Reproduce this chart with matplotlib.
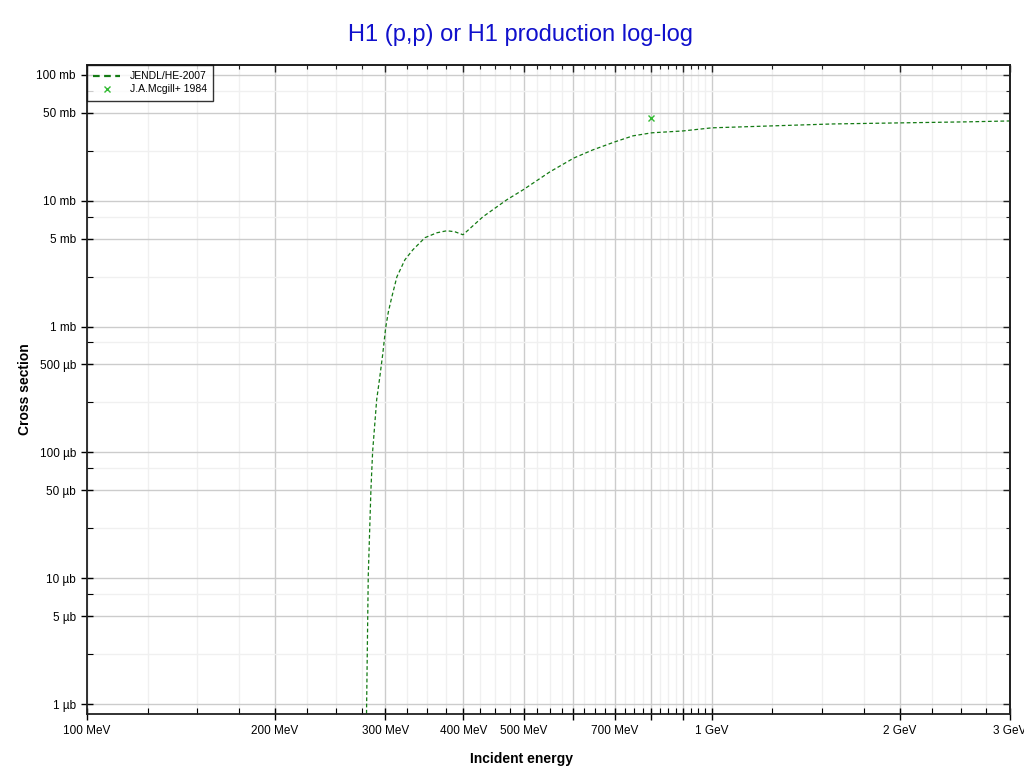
import matplotlib
matplotlib.use("Agg")
import matplotlib.pyplot as plt
from matplotlib.ticker import FixedLocator, FixedFormatter, NullFormatter
import numpy as np

plt.rcParams["font.family"] = ["Liberation Sans", "DejaVu Sans"]

# JENDL/HE-2007 evaluation, energy in MeV, cross section in mb
energy = [279.4, 280.2, 281.9, 284.7, 286.5, 290.8, 294.0, 297.3, 300.6, 303.5,
          307.3, 313.3, 322.7, 332.3, 347.4, 363.1, 376.7, 388.0, 399.7, 430.1,
          469.9, 498.5, 550.7, 601.7, 645.2, 699.5, 747.4, 801.7, 898.7, 1000.0,
          1252.0, 1562.0, 2000.0, 2559.0, 3000.0]
xs = [3.0e-4, 9.64e-4, 1.04e-2, 0.0508, 0.102, 0.263, 0.39, 0.60, 0.98, 1.30,
      1.70, 2.49, 3.40, 4.08, 5.09, 5.57, 5.78, 5.67, 5.37, 7.46,
      10.2, 12.2, 17.0, 21.9, 25.4, 29.4, 32.8, 34.7, 35.9, 38.0,
      39.4, 40.8, 41.6, 42.4, 43.1]

# J.A.Mcgill+ 1984
exp_energy = [800.0]
exp_xs = [45.6]

x_major = [100, 200, 300, 400, 500, 600, 700, 800, 900, 1000, 2000, 3000]
x_labels = ["100 MeV", "200 MeV", "300 MeV", "400 MeV", "500 MeV", "", "700 MeV",
            "", "", "1 GeV", "2 GeV", "3 GeV"]
y_major = [1e-3, 5e-3, 1e-2, 5e-2, 0.1, 0.5, 1, 5, 10, 50, 100]
y_labels = ["1 µb", "5 µb", "10 µb", "50 µb", "100 µb", "500 µb",
            "1 mb", "5 mb", "10 mb", "50 mb", "100 mb"]

x_minor = sorted(set(list(np.arange(100, 1000, 25)) + list(np.arange(1000, 3000, 250))) - set(x_major))
y_minor = [m * 10.0 ** d for d in range(-4, 3) for m in (2.5, 7.5)]

fig = plt.figure(figsize=(10.24, 7.74), dpi=100)
ax = fig.add_axes([87 / 1024, 1 - 714 / 774, 923 / 1024, 649 / 774])

ax.set_xscale("log")
ax.set_yscale("log")
ax.set_xlim(100, 3000)
ax.set_ylim(8.34e-4, 120)

ax.xaxis.set_major_locator(FixedLocator(x_major))
ax.xaxis.set_major_formatter(FixedFormatter(x_labels))
ax.xaxis.set_minor_locator(FixedLocator(x_minor))
ax.xaxis.set_minor_formatter(NullFormatter())
ax.yaxis.set_major_locator(FixedLocator(y_major))
ax.yaxis.set_major_formatter(FixedFormatter(y_labels))
ax.yaxis.set_minor_locator(FixedLocator(y_minor))
ax.yaxis.set_minor_formatter(NullFormatter())

ax.grid(which="major", color="#cccccc", linewidth=1.0)
ax.grid(which="minor", color="#f0f0f0", linewidth=1.0)
ax.set_axisbelow(True)

ax.tick_params(which="major", direction="inout", length=8, width=1, labelsize=8.5, pad=4)
ax.tick_params(which="minor", direction="in", length=4, width=0.8)
for s in ax.spines.values():
    s.set_linewidth(1.3)
    s.set_color("#222222")

# inward ticks on the top and right edges
top = ax.secondary_xaxis("top")
top.xaxis.set_major_locator(FixedLocator(x_major))
top.xaxis.set_minor_locator(FixedLocator(x_minor))
top.xaxis.set_major_formatter(NullFormatter())
top.xaxis.set_minor_formatter(NullFormatter())
right = ax.secondary_yaxis("right")
right.yaxis.set_major_locator(FixedLocator(y_major))
right.yaxis.set_minor_locator(FixedLocator(y_minor))
right.yaxis.set_major_formatter(NullFormatter())
right.yaxis.set_minor_formatter(NullFormatter())
for sec in (top, right):
    sec.set_zorder(5)
    sec.tick_params(which="major", direction="in", length=5, width=1, color="#222222")
    sec.tick_params(which="minor", direction="in", length=3, width=0.8, color="#222222")
    for s in sec.spines.values():
        s.set_linewidth(1.3)
        s.set_color("#222222")

ax.plot(energy, xs, color="#137a13", linestyle=(0, (3, 2)), linewidth=0.9,
        label="JENDL/HE-2007")
ax.plot(exp_energy, exp_xs, linestyle="none", marker="x", markersize=4,
        markeredgewidth=1.0, color="#33bb33", label="J.A.Mcgill+ 1984")

leg = ax.legend(loc="upper left", borderaxespad=0, fontsize=7.5, frameon=True,
                fancybox=False, edgecolor="black", handlelength=2.6,
                borderpad=0.6, labelspacing=0.3, handletextpad=0.9)
leg.get_frame().set_linewidth(1.0)
leg.legend_handles[0].set_linewidth(1.6)
leg.set_zorder(10)

ax.set_xlabel("Incident energy", fontsize=10, fontweight="bold")
ax.set_ylabel("Cross section", fontsize=10, fontweight="bold")
ax.xaxis.set_label_coords((521 - 87) / 923, (714 - 752) / 649)
ax.yaxis.set_label_coords((32 - 87) / 923, 0.5)

fig.text(520 / 1024, 1 - 35 / 774, "H1 (p,p) or H1 production log-log",
         ha="center", va="center", fontsize=17, color="#1010cc")

fig.savefig("out.png", dpi=100)
